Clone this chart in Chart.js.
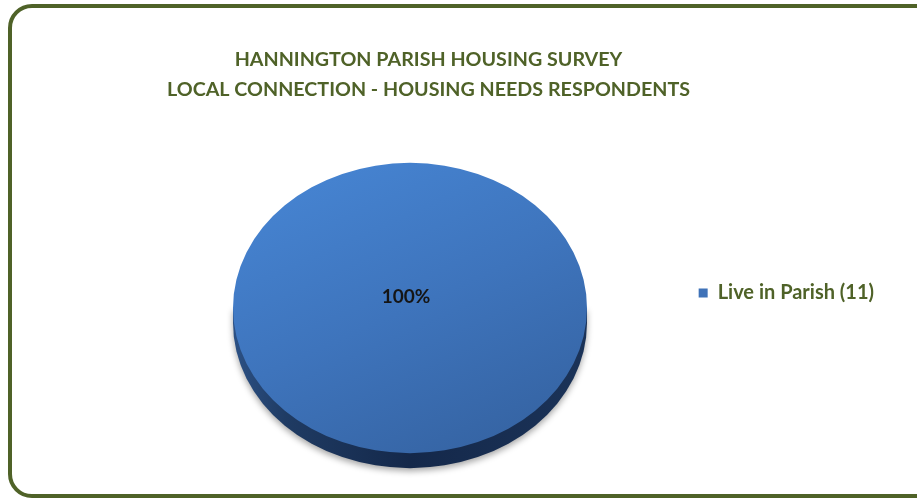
<!DOCTYPE html>
<html>
<head>
<meta charset="utf-8">
<script src="https://cdn.jsdelivr.net/npm/chart.js@4.4.1/dist/chart.umd.min.js"></script>
<style>
  html, body { margin: 0; padding: 0; background: #fff; overflow: hidden; }
  #wrap { position: relative; width: 917px; height: 500px; }
  #frame { position: absolute; left: 8px; top: 4px; width: 960px; height: 486px;
           border: 4px solid #4f6228; border-radius: 24px; }
  canvas { position: absolute; left: 0; top: 0; }
</style>
</head>
<body>
<div id="wrap">
  <div id="frame"></div>
  <canvas id="chart" width="917" height="500"></canvas>
</div>
<script>
const titleLines = ['HANNINGTON PARISH HOUSING SURVEY', 'LOCAL CONNECTION - HOUSING NEEDS RESPONDENTS'];
const categories = ['Live in Parish (11)'];
const counts = [11];
const percentLabels = ['100%'];
const legendColors = ['#3f72b8'];

// pie placement + fake 3d look
const pieCenter = { x: 410, y: 308 };
const pieRadius = 177;
const squash = 0.82;
const depth = 15;
const legendShift = { x: 27, y: 26 };

const pie3d = {
    id: 'pie3d',
    afterLayout(chart) {
        // put the pie where it sits in the original, legend/title keep their own boxes
        const a = chart.chartArea;
        a.left = pieCenter.x - pieRadius;
        a.right = pieCenter.x + pieRadius;
        a.top = pieCenter.y - pieRadius;
        a.bottom = pieCenter.y + pieRadius;
        a.width = a.right - a.left;
        a.height = a.bottom - a.top;

        const lg = chart.legend;
        lg.left += legendShift.x;
        lg.right += legendShift.x;
        lg.top += legendShift.y;
        lg.bottom += legendShift.y;
    },
    beforeDatasetsDraw(chart) {
        const arc = chart.getDatasetMeta(0).data[0];
        const { x, y, outerRadius: r } = arc;
        const ry = r * squash;
        const ctx = chart.ctx;

        // side wall
        ctx.save();
        const g = ctx.createLinearGradient(x - r, 0, x + r, 0);
        g.addColorStop(0, '#2c5185');
        g.addColorStop(0.15, '#1f3b63');
        g.addColorStop(0.5, '#14284a');
        g.addColorStop(1, '#1b3358');
        ctx.fillStyle = g;
        ctx.shadowColor = 'rgba(0,0,0,0.35)';
        ctx.shadowBlur = 6;
        ctx.shadowOffsetY = 3;
        ctx.beginPath();
        ctx.moveTo(x + r, y);
        ctx.lineTo(x + r, y + depth);
        ctx.ellipse(x, y + depth, r, ry, 0, 0, Math.PI);
        ctx.lineTo(x - r, y);
        ctx.closePath();
        ctx.fill();
        ctx.restore();

        // squash the top face
        ctx.save();
        ctx.translate(x, y);
        ctx.scale(1, squash);
        ctx.translate(-x, -y);
    },
    afterDatasetsDraw(chart) {
        const ctx = chart.ctx;
        ctx.restore();
        const arc = chart.getDatasetMeta(0).data[0];
        ctx.save();
        ctx.font = 'bold 19px Lato, "DejaVu Sans", sans-serif';
        ctx.fillStyle = '#151515';
        ctx.textAlign = 'center';
        ctx.textBaseline = 'middle';
        ctx.fillText(percentLabels[0], arc.x - 4, arc.y - 11);
        ctx.restore();
    }
};

function faceGradient(context) {
    const chart = context.chart;
    const a = chart.chartArea;
    if (!a) return legendColors[0];
    const g = chart.ctx.createLinearGradient(a.left + 80, a.top, a.right - 80, a.bottom);
    g.addColorStop(0, '#4684d2');
    g.addColorStop(0.5, '#3e74bc');
    g.addColorStop(1, '#3563a2');
    return g;
}

const ctx = document.getElementById('chart').getContext('2d');
new Chart(ctx, {
    type: 'pie',
    data: {
        labels: categories,
        datasets: [{
            data: counts,
            backgroundColor: faceGradient,
            borderWidth: 0,
            clip: false
        }]
    },
    options: {
        responsive: false,
        animation: false,
        layout: { padding: { top: 34, right: 60, left: 0, bottom: 0 } },
        plugins: {
            title: {
                display: true,
                text: titleLines,
                color: '#4f6228',
                font: { family: 'Lato, "Open Sans", sans-serif', size: 19.7, weight: 'bold', lineHeight: 1.55 },
                padding: { top: 10, bottom: 10 }
            },
            legend: {
                position: 'right',
                labels: {
                    boxWidth: 9,
                    boxHeight: 9,
                    color: '#4f6228',
                    font: { family: 'Lato, "Open Sans", sans-serif', size: 20, weight: 'bold' },
                    generateLabels() {
                        return categories.map((c, i) => ({
                            text: c,
                            fillStyle: legendColors[i],
                            strokeStyle: legendColors[i],
                            fontColor: '#4f6228',
                            lineWidth: 0,
                            hidden: false,
                            index: i
                        }));
                    }
                }
            },
            tooltip: { enabled: false }
        }
    },
    plugins: [pie3d]
});
</script>
</body>
</html>
